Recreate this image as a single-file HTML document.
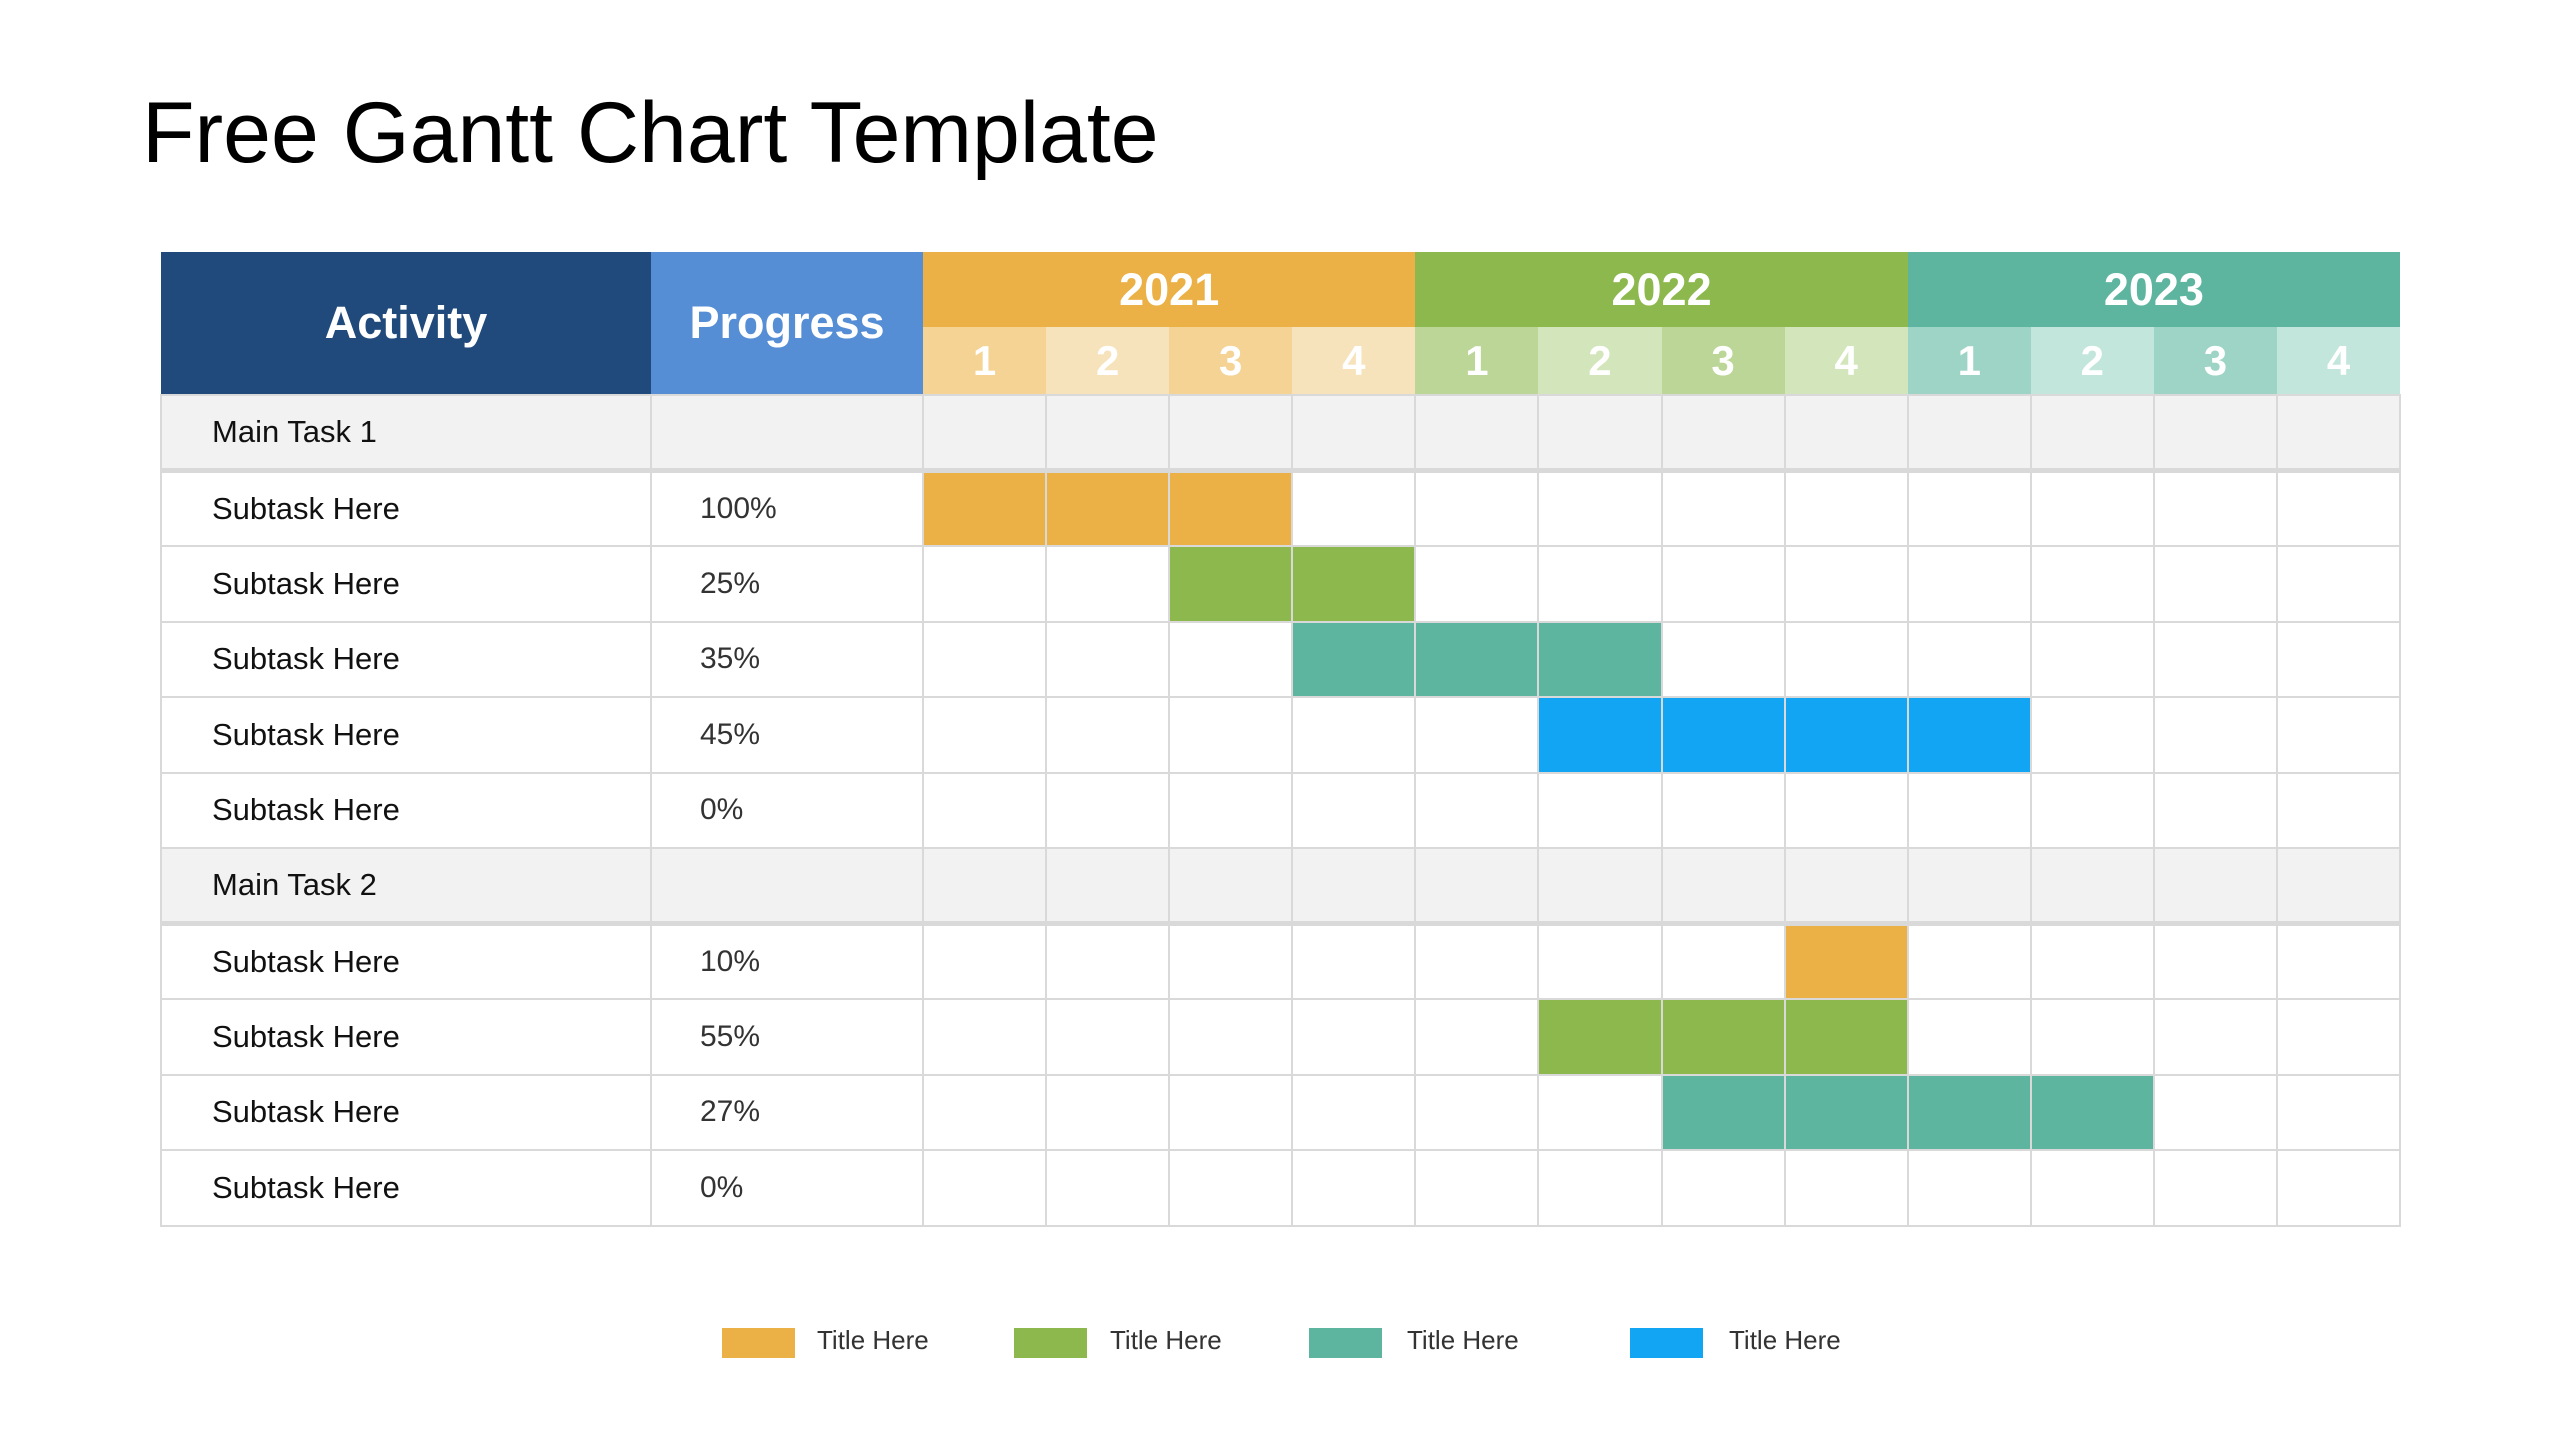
<!DOCTYPE html>
<html><head><meta charset="utf-8"><style>
body{margin:0;width:2559px;height:1440px;background:#fff;position:relative;overflow:hidden;font-family:"Liberation Sans",sans-serif}
.t{position:absolute;left:142px;top:84px;font-size:86px;color:#000;white-space:nowrap}
table{position:absolute;left:160px;top:252px;width:2239px;border-collapse:collapse;table-layout:fixed}
td,th{padding:0;box-sizing:border-box}
th{color:#fff;font-weight:bold;text-align:center}
.yr{height:75px;font-size:45px}
.q{height:68px;font-size:42px}
td{height:75.5px;border:2px solid #d9d9d9;font-size:31px;color:#111}
td.a{padding-left:50px}
td.p{padding-left:48px;color:#333;font-size:30px}
tr.m td{background:#f2f2f2;border-bottom:5px solid #d9d9d9}
.Y{background:#ebb147}.G{background:#8db84d}.T{background:#5db5a0}.B{background:#12a5f4}
.lg{position:absolute;top:1328px;width:73px;height:30px}
.lt{position:absolute;top:1325px;font-size:26px;color:#333}
</style></head><body>
<div class="t">Free Gantt Chart Template</div>
<table>
<colgroup><col style="width:490px"><col style="width:272px"><col span="12" style="width:123.08px"></colgroup>
<tr><th rowspan="2" style="background:#214a7c;font-size:45px">Activity</th><th rowspan="2" style="background:#558ed5;font-size:45px">Progress</th>
<th colspan="4" class="yr" style="background:#ebb147">2021</th><th colspan="4" class="yr" style="background:#8db84d">2022</th><th colspan="4" class="yr" style="background:#5db5a0">2023</th></tr>
<tr>
<th class="q" style="background:#f4d394">1</th><th class="q" style="background:#f7e3bb">2</th><th class="q" style="background:#f4d394">3</th><th class="q" style="background:#f7e3bb">4</th>
<th class="q" style="background:#bcd697">1</th><th class="q" style="background:#d3e5bb">2</th><th class="q" style="background:#bcd697">3</th><th class="q" style="background:#d3e5bb">4</th>
<th class="q" style="background:#9ed4c5">1</th><th class="q" style="background:#c2e6dc">2</th><th class="q" style="background:#9ed4c5">3</th><th class="q" style="background:#c2e6dc">4</th>
</tr>
<tr class="m"><td class="a">Main Task 1</td><td></td><td></td><td></td><td></td><td></td><td></td><td></td><td></td><td></td><td></td><td></td><td></td><td></td></tr>
<tr><td class="a">Subtask Here</td><td class="p">100%</td><td class="Y"></td><td class="Y"></td><td class="Y"></td><td></td><td></td><td></td><td></td><td></td><td></td><td></td><td></td><td></td></tr>
<tr><td class="a">Subtask Here</td><td class="p">25%</td><td></td><td></td><td class="G"></td><td class="G"></td><td></td><td></td><td></td><td></td><td></td><td></td><td></td><td></td></tr>
<tr><td class="a">Subtask Here</td><td class="p">35%</td><td></td><td></td><td></td><td class="T"></td><td class="T"></td><td class="T"></td><td></td><td></td><td></td><td></td><td></td><td></td></tr>
<tr><td class="a">Subtask Here</td><td class="p">45%</td><td></td><td></td><td></td><td></td><td></td><td class="B"></td><td class="B"></td><td class="B"></td><td class="B"></td><td></td><td></td><td></td></tr>
<tr><td class="a">Subtask Here</td><td class="p">0%</td><td></td><td></td><td></td><td></td><td></td><td></td><td></td><td></td><td></td><td></td><td></td><td></td></tr>
<tr class="m"><td class="a">Main Task 2</td><td></td><td></td><td></td><td></td><td></td><td></td><td></td><td></td><td></td><td></td><td></td><td></td><td></td></tr>
<tr><td class="a">Subtask Here</td><td class="p">10%</td><td></td><td></td><td></td><td></td><td></td><td></td><td></td><td class="Y"></td><td></td><td></td><td></td><td></td></tr>
<tr><td class="a">Subtask Here</td><td class="p">55%</td><td></td><td></td><td></td><td></td><td></td><td class="G"></td><td class="G"></td><td class="G"></td><td></td><td></td><td></td><td></td></tr>
<tr><td class="a">Subtask Here</td><td class="p">27%</td><td></td><td></td><td></td><td></td><td></td><td></td><td class="T"></td><td class="T"></td><td class="T"></td><td class="T"></td><td></td><td></td></tr>
<tr><td class="a">Subtask Here</td><td class="p">0%</td><td></td><td></td><td></td><td></td><td></td><td></td><td></td><td></td><td></td><td></td><td></td><td></td></tr>
</table>
<div class="lg Y" style="left:722px"></div><div class="lt" style="left:817px">Title Here</div>
<div class="lg G" style="left:1014px"></div><div class="lt" style="left:1110px">Title Here</div>
<div class="lg T" style="left:1309px"></div><div class="lt" style="left:1407px">Title Here</div>
<div class="lg B" style="left:1630px"></div><div class="lt" style="left:1729px">Title Here</div>
</body></html>
